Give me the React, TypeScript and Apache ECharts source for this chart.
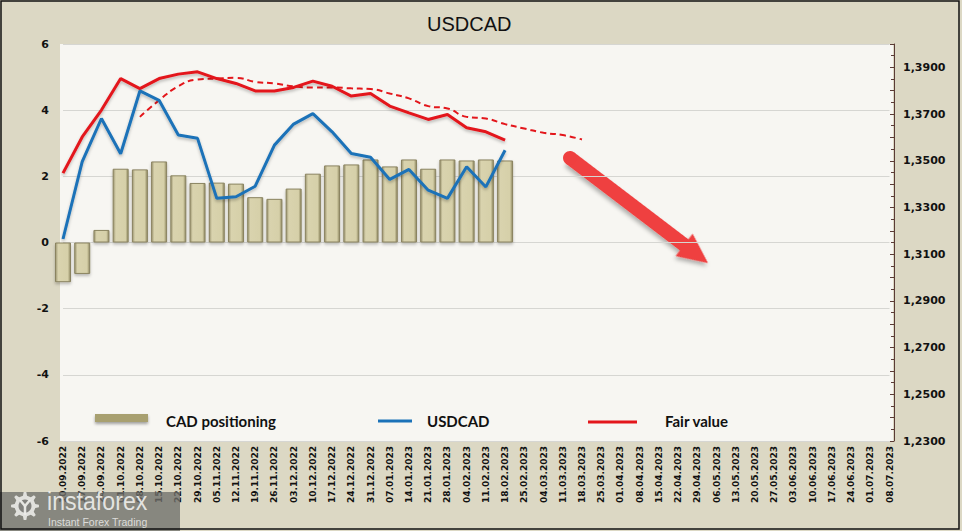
import React, { useEffect, useRef } from 'react';
import * as echarts from 'echarts';

const categories = [
  '10.09.2022', '17.09.2022', '24.09.2022', '01.10.2022', '08.10.2022', '15.10.2022', '22.10.2022',
  '29.10.2022', '05.11.2022', '12.11.2022', '19.11.2022', '26.11.2022', '03.12.2022', '10.12.2022',
  '17.12.2022', '24.12.2022', '31.12.2022', '07.01.2023', '14.01.2023', '21.01.2023', '28.01.2023',
  '04.02.2023', '11.02.2023', '18.02.2023', '25.02.2023', '04.03.2023', '11.03.2023', '18.03.2023',
  '25.03.2023', '01.04.2023', '08.04.2023', '15.04.2023', '22.04.2023', '29.04.2023', '06.05.2023',
  '13.05.2023', '20.05.2023', '27.05.2023', '03.06.2023', '10.06.2023', '17.06.2023', '24.06.2023',
  '01.07.2023', '08.07.2023',
];

const cadPositioning = [
  -1.2, -0.95, 0.38, 2.23, 2.21, 2.45, 2.03, 1.8, 1.81, 1.78, 1.37, 1.32, 1.63, 2.08, 2.33, 2.36,
  2.51, 2.3, 2.51, 2.23, 2.51, 2.48, 2.51, 2.48,
];

const usdcad = [
  1.3165, 1.3496, 1.3681, 1.353, 1.3799, 1.3759, 1.361, 1.3596, 1.3339, 1.3346, 1.3391, 1.3567,
  1.3657, 1.3702, 1.3624, 1.3531, 1.3515, 1.342, 1.3463, 1.3374, 1.3339, 1.3474, 1.3388, 1.3545,
];

const fairValue = [
  1.3447, 1.3602, 1.3717, 1.3852, 1.3809, 1.3852, 1.3871, 1.3881, 1.3852, 1.3831, 1.3799, 1.3799,
  1.3814, 1.3841, 1.3819, 1.3777, 1.3788, 1.3734, 1.3705, 1.3677, 1.3698, 1.3641, 1.3624, 1.3588,
];

const fairValueTrend = [
  null, null, null, null, 1.3688, 1.3759, 1.3819, 1.3848, 1.3852, 1.3855, 1.3838, 1.3831, 1.3819,
  1.3814, 1.3814, 1.381, 1.3807, 1.3788, 1.3767, 1.3734, 1.3724, 1.3688, 1.3681, 1.3657, 1.3638,
  1.362, 1.361, 1.3591,
];

const leftTicks = { min: -6, max: 6, interval: 2 };
const rightTicks = { min: 1.23, max: 1.4, interval: 0.01 };

function gearPoints(cx: number, cy: number, rOut: number, rIn: number, teeth: number) {
  const pts: number[][] = [];
  const step = (Math.PI * 2) / teeth;
  for (let i = 0; i < teeth; i++) {
    const a = i * step;
    const angs = [a - step * 0.25, a - step * 0.12, a + step * 0.12, a + step * 0.25];
    const rs = [rIn, rOut, rOut, rIn];
    for (let k = 0; k < 4; k++) {
      pts.push([cx + rs[k] * Math.cos(angs[k]), cy + rs[k] * Math.sin(angs[k])]);
    }
  }
  return pts;
}

export default function App() {
  const ref = useRef<HTMLDivElement>(null);

  useEffect(() => {
    if (!ref.current) return;
    const chart = echarts.init(ref.current, null, { renderer: 'svg' });

    const ax = 570, ay = 158, tx = 708, ty = 263;
    const L = Math.sqrt((tx - ax) ** 2 + (ty - ay) ** 2);
    const ang = Math.atan2(ty - ay, tx - ax);
    const arrowColor = '#EF3F3F';

    const barGradient = new echarts.graphic.LinearGradient(0, 0, 1, 0, [
      { offset: 0, color: '#9C9570' },
      { offset: 0.18, color: '#D9D3AE' },
      { offset: 0.82, color: '#D6D0A9' },
      { offset: 1, color: '#8E875F' },
    ]);

    const option: any = {
      animation: false,
      backgroundColor: '#DCD8C4',
      grid: { left: 63, right: 72.5, top: 44, bottom: 90 },
      xAxis: {
        type: 'category',
        data: categories,
        boundaryGap: false,
        axisLine: { show: false },
        axisTick: { show: false },
        splitLine: { show: false },
        axisLabel: {
          rotate: 90,
          interval: 0,
          fontFamily: 'DejaVu Sans',
          fontWeight: 'bold',
          fontSize: 9,
          color: '#111',
          margin: 5,
        },
      },
      yAxis: [
        {
          type: 'value',
          min: leftTicks.min,
          max: leftTicks.max,
          interval: leftTicks.interval,
          axisLine: { show: false },
          axisTick: { show: false },
          axisLabel: {
            fontFamily: 'DejaVu Sans',
            fontWeight: 'bold',
            fontSize: 11,
            color: '#111',
            margin: 14,
          },
          splitLine: { lineStyle: { color: '#D6D6D2', width: 1 } },
        },
        {
          type: 'value',
          position: 'right',
          min: rightTicks.min,
          max: rightTicks.max,
          interval: rightTicks.interval,
          offset: 4.5,
          axisLine: { show: true, lineStyle: { color: '#5A3B35', width: 1 } },
          axisTick: { show: true, inside: true, length: 4, lineStyle: { color: '#5A3B35' } },
          minorTick: { show: true, splitNumber: 2, length: 3, lineStyle: { color: '#5A3B35' } },
          splitLine: { show: false },
          axisLabel: {
            fontFamily: 'DejaVu Sans',
            fontWeight: 'bold',
            fontSize: 11,
            color: '#111',
            margin: 9,
            formatter: (v: number) =>
              Math.round(v * 100) % 2 === 1 ? v.toFixed(4).replace('.', ',') : '',
          },
        },
      ],
      series: [
        {
          name: 'CAD positioning',
          type: 'bar',
          yAxisIndex: 0,
          data: cadPositioning,
          barWidth: 16,
          clip: true,
          itemStyle: {
            color: barGradient,
            borderColor: '#8A8360',
            borderWidth: 1,
            shadowColor: 'rgba(0,0,0,0.25)',
            shadowBlur: 3,
            shadowOffsetY: 2,
          },
          z: 2,
        },
        {
          name: 'Fair value trend',
          type: 'line',
          yAxisIndex: 1,
          data: fairValueTrend,
          smooth: true,
          symbol: 'none',
          lineStyle: { color: '#E3161B', width: 2, type: [6, 4] },
          z: 3,
        },
        {
          name: 'Fair value',
          type: 'line',
          yAxisIndex: 1,
          data: fairValue,
          symbol: 'none',
          lineStyle: {
            color: '#E3161B',
            width: 3,
            shadowColor: 'rgba(0,0,0,0.25)',
            shadowBlur: 3,
            shadowOffsetY: 2,
          },
          z: 4,
        },
        {
          name: 'USDCAD',
          type: 'line',
          yAxisIndex: 1,
          data: usdcad,
          symbol: 'none',
          lineStyle: {
            color: '#1B72B8',
            width: 3,
            shadowColor: 'rgba(0,0,0,0.25)',
            shadowBlur: 3,
            shadowOffsetY: 2,
          },
          z: 5,
        },
      ],
      graphic: {
        elements: [
          {
            type: 'rect',
            z: -10,
            silent: true,
            shape: { x: 60, y: 44, width: 833, height: 397 },
            style: { fill: '#F7F6F2' },
          },
          {
            type: 'rect',
            z: 100,
            silent: true,
            shape: { x: 1, y: 1, width: 958, height: 528 },
            style: { fill: 'none', stroke: '#111', lineWidth: 1.5 },
          },
          {
            type: 'text',
            z: 50,
            x: 427,
            y: 24,
            style: {
              text: 'USDCAD',
              fontFamily: 'Liberation Sans',
              fontSize: 20,
              fill: '#111',
              textVerticalAlign: 'middle',
              verticalAlign: 'middle',
            },
          },
          // Arrow
          {
            type: 'group',
            x: ax,
            y: ay,
            rotation: -ang,
            z: 20,
            children: [
              {
                type: 'polygon',
                shape: {
                  points: [
                    [0, -7], [L - 30, -7], [L - 30, -14], [L, 0], [L - 30, 14], [L - 30, 7], [0, 7],
                  ],
                },
                style: {
                  fill: arrowColor,
                  shadowColor: 'rgba(0,0,0,0.3)',
                  shadowBlur: 4,
                  shadowOffsetX: 1,
                  shadowOffsetY: 3,
                },
              },
              {
                type: 'circle',
                shape: { cx: 0, cy: 0, r: 7 },
                style: { fill: arrowColor },
              },
            ],
          },
          // Legend
          {
            type: 'rect',
            z: 20,
            shape: { x: 95, y: 414, width: 53, height: 8 },
            style: {
              fill: '#A8A070',
              shadowColor: 'rgba(0,0,0,0.35)',
              shadowBlur: 3,
              shadowOffsetY: 2,
            },
          },
          {
            type: 'text',
            z: 20,
            x: 166,
            y: 421,
            style: {
              text: 'CAD positioning',
              fontFamily: 'Lato',
              fontWeight: 'bold',
              fontSize: 15,
              fill: '#111',
              verticalAlign: 'middle',
            },
          },
          {
            type: 'line',
            z: 20,
            shape: { x1: 378, y1: 421, x2: 412, y2: 421 },
            style: { stroke: '#1B72B8', lineWidth: 3 },
          },
          {
            type: 'text',
            z: 20,
            x: 427,
            y: 421,
            style: {
              text: 'USDCAD',
              fontFamily: 'Lato',
              fontWeight: 'bold',
              fontSize: 15,
              fill: '#111',
              verticalAlign: 'middle',
            },
          },
          {
            type: 'line',
            z: 20,
            shape: { x1: 588, y1: 422, x2: 637, y2: 422 },
            style: { stroke: '#E3161B', lineWidth: 3 },
          },
          {
            type: 'text',
            z: 20,
            x: 665,
            y: 421,
            style: {
              text: 'Fair value',
              fontFamily: 'Lato',
              fontWeight: 'bold',
              fontSize: 15,
              fill: '#111',
              verticalAlign: 'middle',
            },
          },
          // Watermark
          {
            type: 'rect',
            z: 60,
            shape: { x: 0, y: 492, width: 180, height: 39 },
            style: { fill: 'rgba(112,112,108,0.78)' },
          },
          {
            type: 'polygon',
            z: 61,
            shape: { points: gearPoints(25, 506, 14, 10.5, 8) },
            style: { fill: 'rgba(235,235,232,0.9)' },
          },
          {
            type: 'circle',
            z: 62,
            shape: { cx: 25, cy: 506, r: 6.5 },
            style: { fill: 'rgba(130,130,126,1)' },
          },
          {
            type: 'polyline',
            z: 63,
            shape: { points: [[20, 500], [25, 506], [30, 500]] },
            style: { stroke: 'rgba(235,235,232,0.95)', lineWidth: 2.5, fill: 'none' },
          },
          {
            type: 'line',
            z: 63,
            shape: { x1: 25, y1: 506, x2: 25, y2: 515 },
            style: { stroke: 'rgba(235,235,232,0.95)', lineWidth: 2.5 },
          },
          {
            type: 'text',
            z: 63,
            x: 47,
            y: 501,
            scaleX: 0.89,
            style: {
              text: 'instaforex',
              fontFamily: 'Liberation Sans',
              fontSize: 26,
              fill: 'rgba(238,238,236,0.92)',
              verticalAlign: 'middle',
            },
          },
          {
            type: 'text',
            z: 63,
            x: 48,
            y: 522,
            style: {
              text: 'Instant Forex Trading',
              fontFamily: 'Liberation Sans',
              fontSize: 10.5,
              fill: 'rgba(230,230,228,0.9)',
              verticalAlign: 'middle',
            },
          },
        ],
      },
    };

    chart.setOption(option);
    return () => {
      chart.dispose();
    };
  }, []);

  return (
    <div
      ref={ref}
      style={{ position: 'fixed', left: 0, top: 0, width: 962, height: 531 }}
    />
  );
}
